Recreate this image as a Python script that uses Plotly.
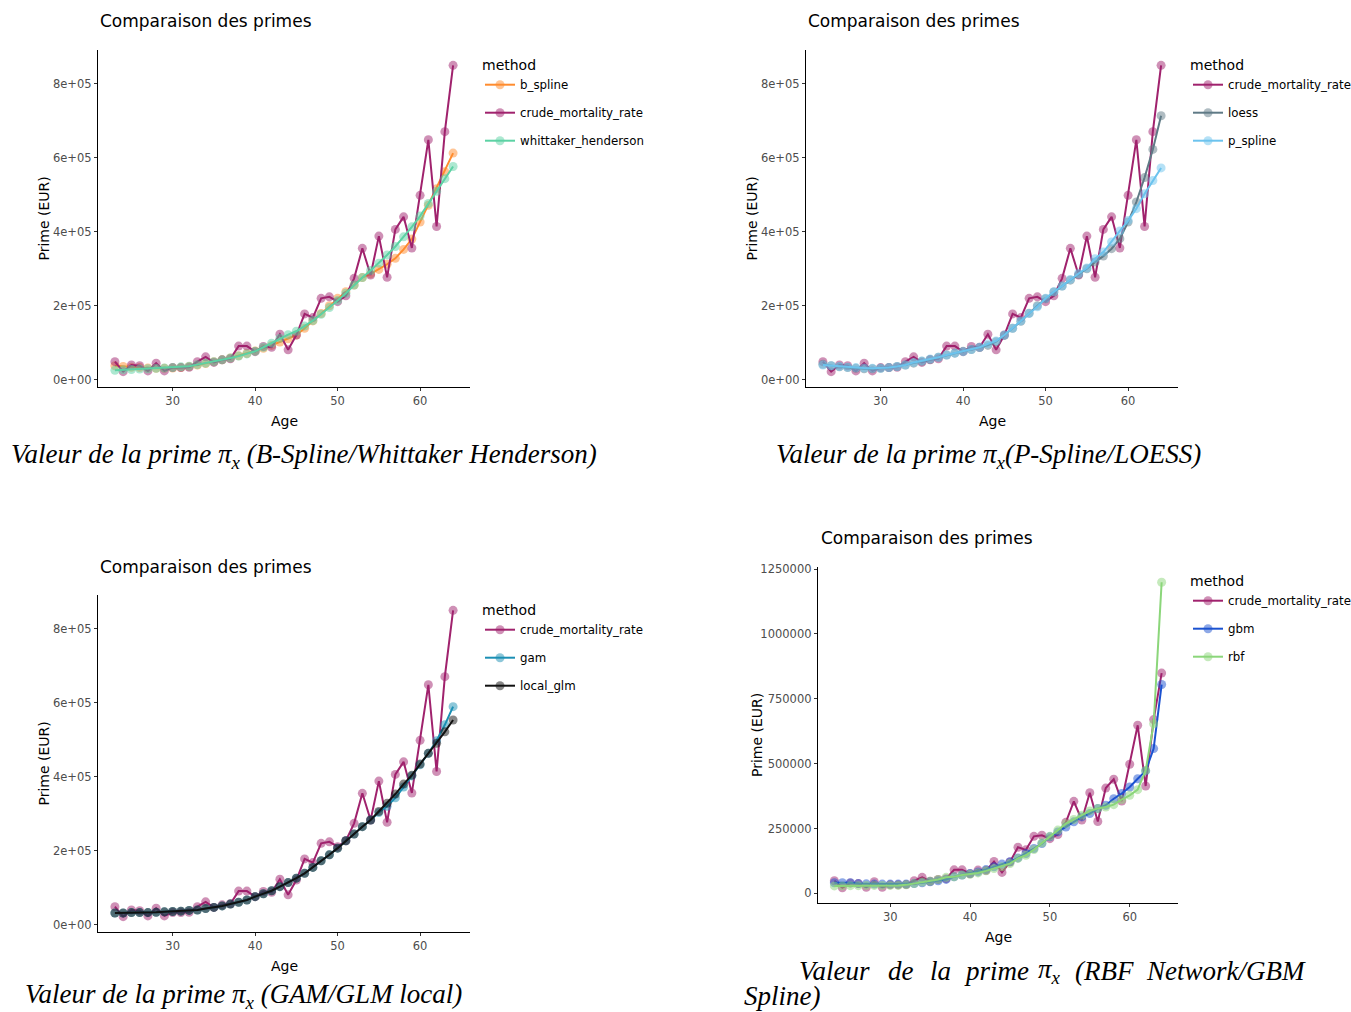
import plotly.graph_objects as go

W, H = 1351, 1012

# ---- data -------------------------------------------------------------
ages = list(range(23, 65))

crude_mortality_rate = [49000, 22000, 40000, 38000, 24000, 45000, 24000, 33000, 33000, 34000,
                        49000, 62000, 47000, 54000, 57000, 91000, 91000, 76000, 90000, 88000,
                        123000, 81000, 121000, 178000, 168000, 220000, 224000, 211000, 227000, 274000,
                        355000, 283000, 388000, 277000, 406000, 440000, 356000, 498000, 648000, 414000,
                        670000, 849000]

b_spline = [38000, 36000, 34000, 33000, 32000, 31000, 31000, 32000, 33000, 36000,
            40000, 44000, 49000, 54000, 59000, 65000, 71000, 78000, 85000, 93000,
            102000, 111000, 121000, 139000, 159000, 179000, 200000, 220000, 238000, 256000,
            276000, 286000, 298000, 312000, 328000, 352000, 380000, 426000, 471000, 516000,
            562000, 612000]

whittaker_henderson = [26000, 27000, 28000, 29000, 30000, 31000, 32000, 33000, 35000, 37000,
                       41000, 45000, 49000, 54000, 59000, 64000, 70000, 77000, 88000, 99000,
                       112000, 122000, 131000, 145000, 160000, 177000, 195000, 214000, 234000, 256000,
                       276000, 295000, 315000, 337000, 360000, 386000, 413000, 442000, 476000, 509000,
                       543000, 576000]

loess = [42000, 38000, 35000, 33000, 31000, 30000, 30000, 31000, 33000, 36000,
         40000, 45000, 50000, 55000, 61000, 67000, 72000, 77000, 82000, 87000,
         93000, 103000, 120000, 139000, 158000, 180000, 200000, 219000, 237000, 253000,
         269000, 284000, 300000, 318000, 334000, 354000, 381000, 426000, 480000, 546000,
         622000, 713000]

p_spline = [40000, 38000, 36000, 34000, 33000, 32000, 31000, 31000, 33000, 36000,
            40000, 47000, 51000, 56000, 61000, 67000, 72000, 76000, 82000, 88000,
            97000, 105000, 121000, 139000, 159000, 179000, 197000, 220000, 238000, 253000,
            271000, 287000, 302000, 327000, 345000, 372000, 402000, 430000, 462000, 502000,
            538000, 572000]

gam = [32000, 32000, 33000, 33000, 33000, 34000, 35000, 36000, 37000, 39000,
       40000, 44000, 47000, 51000, 56000, 61000, 67000, 76000, 84000, 92000,
       103000, 114000, 126000, 139000, 155000, 173000, 189000, 207000, 227000, 245000,
       265000, 283000, 303000, 320000, 343000, 372000, 402000, 432000, 463000, 497000,
       540000, 589000]

local_glm = [32000, 32000, 33000, 33000, 33000, 34000, 35000, 36000, 37000, 39000,
             40000, 44000, 47000, 51000, 56000, 61000, 67000, 76000, 84000, 92000,
             103000, 114000, 126000, 139000, 155000, 173000, 189000, 207000, 227000, 245000,
             265000, 283000, 306000, 328000, 353000, 380000, 404000, 434000, 463000, 490000,
             521000, 553000]

gbm = [41000, 41000, 41000, 38000, 37000, 36000, 36000, 36000, 36000, 36000,
       38000, 41000, 45000, 49000, 54000, 64000, 71000, 77000, 83000, 92000,
       103000, 113000, 122000, 137000, 154000, 173000, 192000, 218000, 237000, 256000,
       276000, 295000, 308000, 327000, 340000, 365000, 385000, 410000, 442000, 472000,
       558000, 805000]

rbf = [29000, 29000, 30000, 30000, 31000, 31000, 31000, 31000, 31000, 33000,
       38000, 44000, 47000, 54000, 62000, 64000, 71000, 74000, 79000, 87000,
       96000, 103000, 115000, 135000, 147000, 169000, 195000, 220000, 244000, 269000,
       285000, 301000, 318000, 327000, 333000, 342000, 362000, 378000, 400000, 474000,
       654000, 1199000]

series = {
    "b_spline": b_spline,
    "crude_mortality_rate": crude_mortality_rate,
    "whittaker_henderson": whittaker_henderson,
    "loess": loess,
    "p_spline": p_spline,
    "gam": gam,
    "local_glm": local_glm,
    "gbm": gbm,
    "rbf": rbf,
}

x_ticks = [30, 40, 50, 60]
sci_ticks = [0, 200000, 400000, 600000, 800000]
sci_labels = ["0e+00", "2e+05", "4e+05", "6e+05", "8e+05"]
plain_ticks = [0, 250000, 500000, 750000, 1000000, 1250000]
plain_labels = ["0", "250000", "500000", "750000", "1000000", "1250000"]

# ---- style ------------------------------------------------------------
line_colors = {
    "b_spline": "#ff8c2e",
    "crude_mortality_rate": "#a0226d",
    "whittaker_henderson": "#5cd2a4",
    "loess": "#5f7a86",
    "p_spline": "#6cc3ee",
    "gam": "#1b8fb4",
    "local_glm": "#111111",
    "gbm": "#1b52d0",
    "rbf": "#8bd67a",
}


def rgba(hex_color, a):
    h = hex_color.lstrip("#")
    r, g, b = int(h[0:2], 16), int(h[2:4], 16), int(h[4:6], 16)
    return f"rgba({r},{g},{b},{a})"


SANS = "DejaVu Sans"
SERIF = "Liberation Serif"


def px(x):
    return x / W


def py(y):
    return 1 - y / H


# panel boxes in pixels: left, top, right, bottom
panels = [
    dict(methods=["b_spline", "crude_mortality_rate", "whittaker_henderson"],
         box=(98, 50, 470, 387), ticks=(sci_ticks, sci_labels), legend="legend",
         title_xy=(98, 21), leg_xy=(480, 52)),
    dict(methods=["crude_mortality_rate", "loess", "p_spline"],
         box=(806, 50, 1178, 387), ticks=(sci_ticks, sci_labels), legend="legend2",
         title_xy=(806, 21), leg_xy=(1188, 52)),
    dict(methods=["crude_mortality_rate", "gam", "local_glm"],
         box=(98, 595, 470, 932), ticks=(sci_ticks, sci_labels), legend="legend3",
         title_xy=(98, 567), leg_xy=(480, 597)),
    dict(methods=["crude_mortality_rate", "gbm", "rbf"],
         box=(818, 567, 1178, 903), ticks=(plain_ticks, plain_labels), legend="legend4",
         title_xy=(819, 538), leg_xy=(1188, 568)),
]

fig = go.Figure()
layout = dict(
    width=W, height=H,
    margin=dict(l=0, r=0, t=0, b=0, autoexpand=False),
    paper_bgcolor="white", plot_bgcolor="white",
    showlegend=True,
    annotations=[],
)

for i, p in enumerate(panels):
    n = "" if i == 0 else str(i + 1)
    xa, ya = "x" + n, "y" + n
    left, top, right, bottom = p["box"]

    all_vals = [v for m in p["methods"] for v in series[m]]
    ymin, ymax = min(all_vals), max(all_vals)
    yspan = ymax - ymin
    xspan = max(ages) - min(ages)

    for m in p["methods"]:
        fig.add_trace(go.Scatter(
            x=ages, y=series[m], name=m, mode="lines+markers",
            line=dict(color=line_colors[m], width=2),
            marker=dict(color=rgba(line_colors[m], 0.5), size=9, line=dict(width=0)),
            xaxis=xa, yaxis=ya, legend=p["legend"], legendgroup=f"{i}-{m}",
        ))

    axis_common = dict(showgrid=False, zeroline=False, showline=True,
                       linecolor="#000000", linewidth=1.3, ticks="outside",
                       ticklen=3, tickwidth=1, tickcolor="#333333",
                       tickfont=dict(family=SANS, size=11.5, color="#4d4d4d"))
    layout["xaxis" + n] = dict(
        domain=[px(left), px(right)],
        range=[min(ages) - 0.05 * xspan, max(ages) + 0.05 * xspan],
        tickvals=x_ticks, anchor=ya, **axis_common)
    layout["yaxis" + n] = dict(
        domain=[py(bottom), py(top)],
        range=[ymin - 0.05 * yspan, ymax + 0.05 * yspan],
        tickvals=p["ticks"][0], ticktext=p["ticks"][1], anchor=xa, **axis_common)

    layout[p["legend"]] = dict(
        x=px(p["leg_xy"][0]), y=py(p["leg_xy"][1]), xanchor="left", yanchor="top",
        xref="paper", yref="paper",
        title=dict(text="method", side="top", font=dict(family=SANS, size=14, color="#000000")),
        font=dict(family=SANS, size=11.8, color="#000000"),
        bgcolor="rgba(0,0,0,0)", borderwidth=0, tracegroupgap=9,
        itemwidth=30,
    )

    tx, ty = p["title_xy"]
    layout["annotations"].append(dict(
        text="Comparaison des primes", x=px(tx), y=py(ty), xref="paper", yref="paper",
        xanchor="left", yanchor="middle", showarrow=False,
        font=dict(family=SANS, size=17, color="#000000")))
    layout["annotations"].append(dict(
        text="Age", x=px((left + right) / 2), y=py(bottom + 34), xref="paper", yref="paper",
        xanchor="center", yanchor="middle", showarrow=False,
        font=dict(family=SANS, size=14, color="#000000")))
    layout["annotations"].append(dict(
        text="Prime (EUR)", x=px(left - 55 if i < 3 else left - 61), y=py((top + bottom) / 2),
        xref="paper", yref="paper", textangle=-90,
        xanchor="center", yanchor="middle", showarrow=False,
        font=dict(family=SANS, size=14, color="#000000")))

# ---- captions under each panel ----------------------------------------
PI = "π<sub><i>x</i></sub>"
cap_font = dict(family=SERIF, size=27, color="#000000")


def caption(text, x, y, anchor="left"):
    layout["annotations"].append(dict(
        text=f"<i>{text}</i>", x=px(x), y=py(y), xref="paper", yref="paper",
        xanchor=anchor, yanchor="middle", showarrow=False, font=cap_font))


caption(f"Valeur de la prime {PI} (B-Spline/Whittaker Henderson)", 9, 456)
caption(f"Valeur de la prime {PI}(P-Spline/LOESS)", 774, 456)
caption(f"Valeur de la prime {PI} (GAM/GLM local)", 23, 996)

# justified first line of the last caption
words = ["Valeur", "de", "la", "prime", PI, "(RBF"]
word_x = [797, 886, 928, 962, 1036, 1073]
for w, x in zip(words, word_x):
    caption(w, x, 971)
caption("Network/GBM", 1308, 971, anchor="right")
caption("Spline)", 742, 996)

fig.update_layout(**layout)
fig.write_html("out.html")
